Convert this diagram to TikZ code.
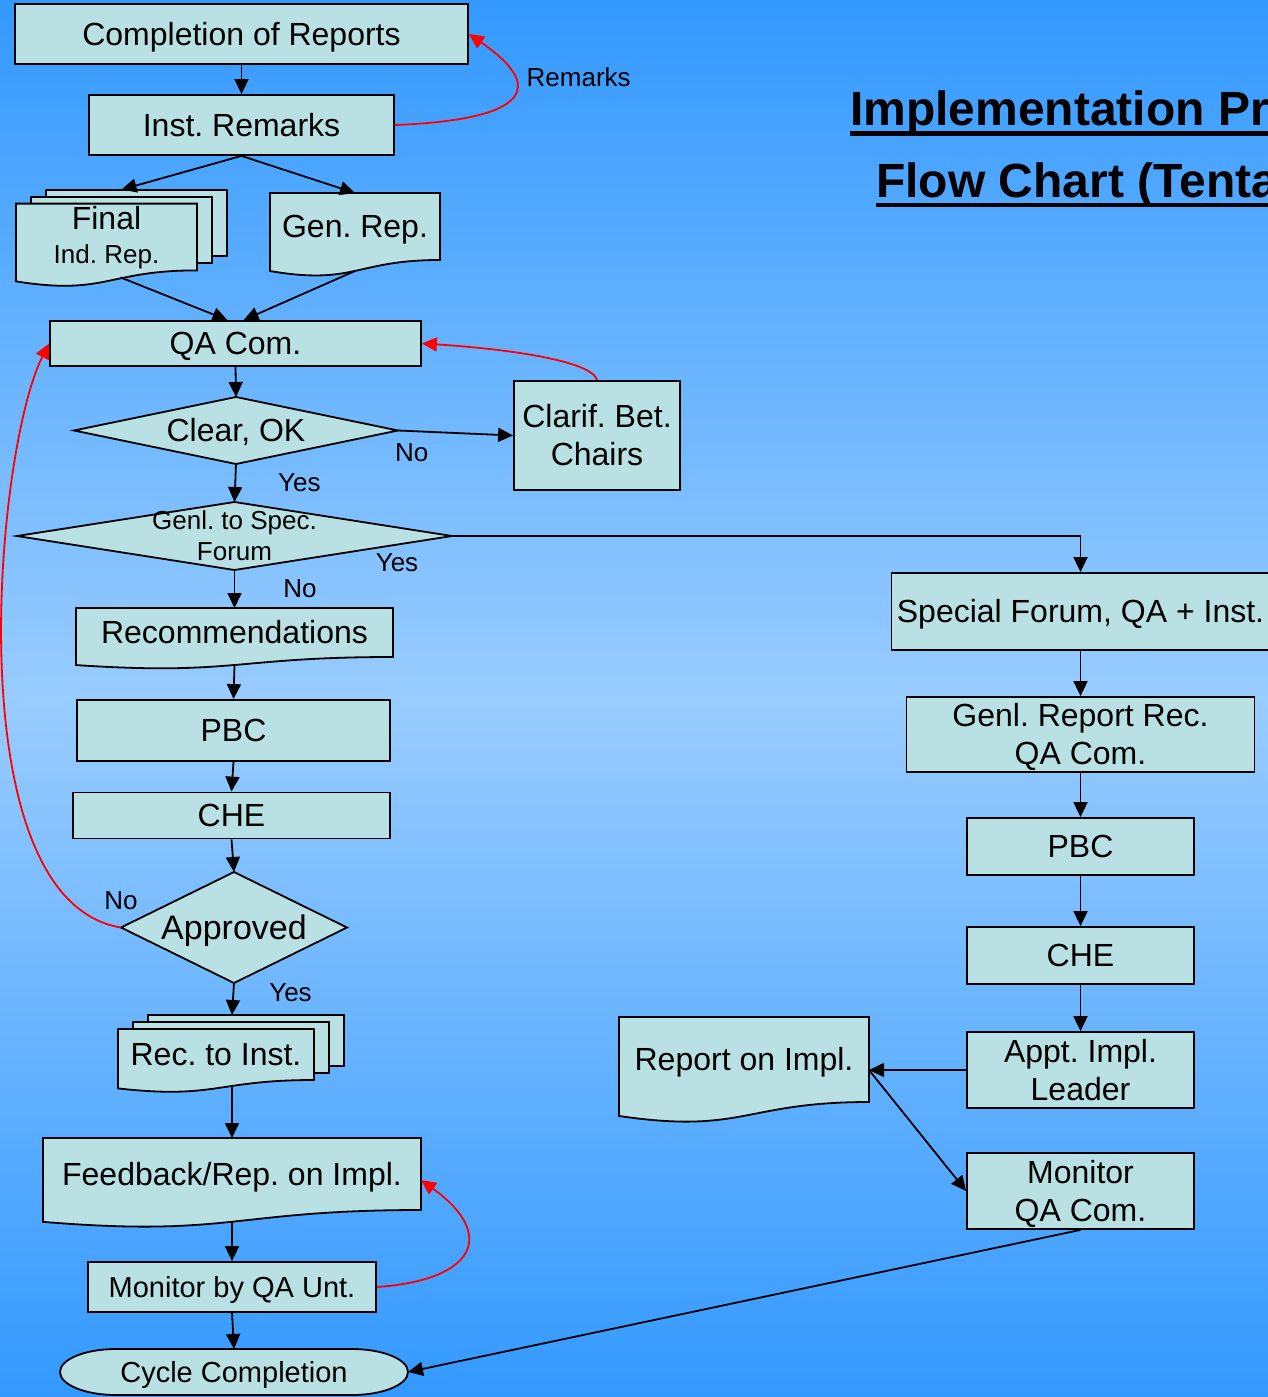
\documentclass[tikz,border=0pt]{standalone}
\usepackage{fontspec}
\setmainfont{Liberation Sans}
\usetikzlibrary{arrows.meta,positioning,calc,backgrounds}
\pgfdeclarelayer{backdrop}
\pgfsetlayers{backdrop,background,main}
\definecolor{skyblue}{RGB}{51,153,255}
\definecolor{paleblue}{RGB}{153,204,255}
\definecolor{boxfill}{RGB}{185,224,227}
\newcommand{\bigtx}{\fontsize{32}{38}\selectfont}
\newcommand{\midtx}{\fontsize{29}{35}\selectfont}
\newcommand{\smalltx}{\fontsize{26}{31}\selectfont}
\newcommand{\titletx}{\fontsize{48}{56}\selectfont\bfseries}
\newcommand{\topstrut}{\rule{0pt}{0.905em}}
\newcommand{\botstrut}{\rule[-0.212em]{0pt}{0.212em}}

% outlines drawn behind a named text node
\newcommand{\docshape}[1]{%
  \begin{scope}[on background layer]
    \path[shape_fill] (#1.north west) -- (#1.north east) -- (#1.south east)
      .. controls (#1.south) and ($(#1.south)!-0.38!(#1.north)$)
      .. ($(#1.south west)!-0.1646!(#1.north west)$) -- cycle;
  \end{scope}}
\newcommand{\multishape}[1]{%
  \begin{scope}[on background layer]
    \path[shape_fill] ([shift={(30pt,14pt)}]#1.north west) rectangle ([shift={(30pt,14pt)}]#1.south east);
    \path[shape_fill] ([shift={(15pt,7pt)}]#1.north west) rectangle ([shift={(15pt,7pt)}]#1.south east);
  \end{scope}
  \docshape{#1}}
\newcommand{\decshape}[1]{%
  \begin{scope}[on background layer]
    \path[shape_fill] (#1.north) -- (#1.east) -- (#1.south) -- (#1.west) -- cycle;
  \end{scope}}
\newcommand{\termshape}[1]{%
  \begin{scope}[on background layer]
    \path[shape_fill] ([xshift=56pt]#1.north west) -- ([xshift=-56pt]#1.north east)
      arc[start angle=90, end angle=-90, x radius=56pt, y radius=23pt]
      -- ([xshift=56pt]#1.south west)
      arc[start angle=270, end angle=90, x radius=56pt, y radius=23pt] -- cycle;
  \end{scope}}

\begin{document}
\frenchspacing
\begin{tikzpicture}[
  x=1pt, y=1pt,
  proc_box/.style ={draw=black, line width=1.8pt, fill=boxfill, align=center, font=\bigtx, inner sep=0pt,
                    execute at begin node=\topstrut, execute at end node=\botstrut},
  text_box/.style ={align=center, font=\bigtx, inner sep=0pt, outer sep=0pt,
                    execute at begin node=\topstrut, execute at end node=\botstrut},
  two_line/.style ={execute at begin node={}, execute at end node={}},
  shape_fill/.style={draw=black, line width=1.8pt, fill=boxfill},
  arr/.style      ={-{Triangle[length=15pt, width=14pt]}, line width=1.8pt, black},
  ret/.style      ={-{Triangle[length=15pt, width=14pt]}, line width=1.8pt, red},
  lbl/.style      ={font=\smalltx, text=black, inner sep=0pt},
]
  \useasboundingbox (0,0) rectangle (1268,-1397);
  \begin{pgfonlayer}{backdrop}
    \shade[top color=skyblue, bottom color=skyblue, middle color=paleblue] (0,0) rectangle (1268,-1397);
  \end{pgfonlayer}

  % title
  \node[font=\titletx, anchor=base west, inner sep=0pt] (title)    at (850,-125) {Implementation Pr};
  \node[font=\titletx, anchor=base west, inner sep=0pt] (subtitle) at (876,-197) {Flow Chart (Tenta};
  \draw[line width=4.5pt] ([yshift=-8.5pt]title.base west) -- ([yshift=-8.5pt]title.base east);
  \draw[line width=4.5pt] ([yshift=-8pt]subtitle.base west) -- ([yshift=-8pt]subtitle.base east);

  % left column
  \node[proc_box, minimum width=453pt, minimum height=60pt]  (compl)    at (241.5,-34)   {Completion of Reports};
  \node[proc_box, minimum width=305pt, minimum height=60pt]  (instrem)  at (241.5,-125)  {Inst. Remarks};
  \node[text_box, two_line, minimum width=181pt, minimum height=60pt] (final) at (106.5,-237) {\rule{0pt}{26pt}Final\\[-4pt]\smash{\smalltx Ind. Rep.}};
  \node[text_box, minimum width=170pt, minimum height=67pt]  (genrep)   at (355,-226.5)  {Gen. Rep.};
  \node[proc_box, minimum width=371pt, minimum height=45pt]  (qacom)    at (235.5,-343.5) {QA Com.};
  \node[text_box, minimum width=324pt, minimum height=67pt]  (clear)    at (236,-430.5)  {Clear, OK};
  \node[proc_box, two_line, minimum width=166pt, minimum height=109pt] (clarif) at (597,-435.5) {\topstrut Clarif. Bet.\\Chairs};
  \node[text_box, two_line, font=\smalltx, minimum width=435pt, minimum height=68pt] (genl) at (234.5,-536) {\topstrut Genl. to Spec.\\Forum};
  \node[text_box, minimum width=317pt, minimum height=49pt]  (recomm)   at (234.5,-632.5) {Recommendations};
  \node[proc_box, minimum width=313pt, minimum height=61pt]  (pbca)     at (233.5,-730.5) {PBC};
  \node[proc_box, minimum width=317pt, minimum height=46pt]  (chea)     at (231.5,-815.5) {CHE};
  \node[text_box, font=\fontsize{34}{40}\selectfont, minimum width=226pt, minimum height=111pt] (approved) at (234,-927.5) {Approved};
  \node[text_box, minimum width=196pt, minimum height=51pt]  (recinst)  at (216,-1054.5) {Rec. to Inst.};
  \node[text_box, minimum width=378pt, minimum height=72pt]  (feedback) at (232,-1174)   {Feedback/Rep. on Impl.};
  \node[proc_box, font=\midtx, minimum width=288pt, minimum height=50pt] (monunit) at (232,-1287) {Monitor by QA Unt.};
  \node[text_box, font=\midtx, minimum width=348pt, minimum height=46pt] (cycle)   at (234,-1372) {Cycle Completion};

  % right column
  \node[proc_box, minimum width=378pt, minimum height=77pt]  (specforum) at (1080.5,-611.5) {Special Forum, QA + Inst.};
  \node[proc_box, two_line, minimum width=348pt, minimum height=75pt] (genlrep) at (1080.5,-734.5) {\topstrut Genl. Report Rec.\\QA Com.};
  \node[proc_box, minimum width=227pt, minimum height=57pt]  (pbcb)      at (1080.5,-846.5) {PBC};
  \node[proc_box, minimum width=227pt, minimum height=57pt]  (cheb)      at (1080.5,-955.5) {CHE};
  \node[proc_box, two_line, minimum width=227pt, minimum height=76pt] (appt)  at (1080.5,-1070) {\topstrut Appt. Impl.\\Leader};
  \node[proc_box, two_line, minimum width=227pt, minimum height=76pt] (monqa) at (1080.5,-1191) {\topstrut Monitor\\QA Com.};
  \node[text_box, minimum width=250pt, minimum height=85pt]  (repimpl)   at (744,-1059.5)   {Report on Impl.};

  \multishape{final}
  \docshape{genrep}
  \decshape{clear}
  \decshape{genl}
  \docshape{recomm}
  \decshape{approved}
  \multishape{recinst}
  \docshape{feedback}
  \termshape{cycle}
  \docshape{repimpl}

  \draw[arr] (compl.south) -- (instrem.north);
  \draw[arr] (instrem.south) -- ([shift={(15pt,14pt)}]final.north);
  \draw[arr] (instrem.south) -- (genrep.north);
  \draw[arr] ([shift={(14pt,-7pt)}]final.south) -- ([xshift=-8pt]qacom.north);
  \draw[arr] ([yshift=-11pt]genrep.south) -- ([xshift=8pt]qacom.north);
  \draw[arr] (qacom.south) -- (clear.north);
  \draw[arr] (clear.east) -- node[lbl, pos=0.12, below=12pt] {No} (clarif.west);
  \draw[arr] (clear.south) -- node[lbl, midway, right=42pt] {Yes} (genl.north);
  \draw[arr] (genl.east) -| node[lbl, pos=0, xshift=-55pt, yshift=-27pt] {Yes} (specforum.north);
  \draw[arr] (genl.south) -- node[lbl, midway, right=48pt] {No} (recomm.north);
  \draw[arr] ([yshift=-8pt]recomm.south) -- (pbca.north);
  \draw[arr] (pbca.south) -- (chea.north);
  \draw[arr] (chea.south) -- (approved.north);
  \draw[arr] (approved.south) -- node[lbl, pos=0.3, right=35pt] {Yes} ([shift={(16pt,14pt)}]recinst.north);
  \draw[arr] ([shift={(16pt,-6pt)}]recinst.south) -- (feedback.north);
  \draw[arr] ([yshift=-12pt]feedback.south) -- (monunit.north);
  \draw[arr] (monunit.south) -- (cycle.north);

  \draw[arr] (specforum.south) -- (genlrep.north);
  \draw[arr] (genlrep.south) -- (pbcb.north);
  \draw[arr] (pbcb.south) -- (cheb.north);
  \draw[arr] (cheb.south) -- (appt.north);
  \draw[arr] (appt.west) -- (appt.west -| repimpl.east);
  \draw[arr] (appt.west -| repimpl.east) -- (monqa.west);
  \draw[arr] (monqa.south) -- (cycle.east);

  % return loops
  \draw[ret] (instrem.east) .. controls +(130,5) and +(80,-55) .. node[lbl, pos=0.7, right=13pt] {Remarks} (compl.east);
  \draw[ret] (clarif.north) .. controls +(-5,20) and +(80,-5) .. (qacom.east);
  \draw[ret] (approved.west) .. controls +(-166,27) and +(-54,-106) .. node[lbl, pos=0, above=17pt] {No} (qacom.west);
  \draw[ret] (monunit.east) .. controls +(100,7) and +(75,-54) .. ([yshift=-6pt]feedback.east);
\end{tikzpicture}
\end{document}
